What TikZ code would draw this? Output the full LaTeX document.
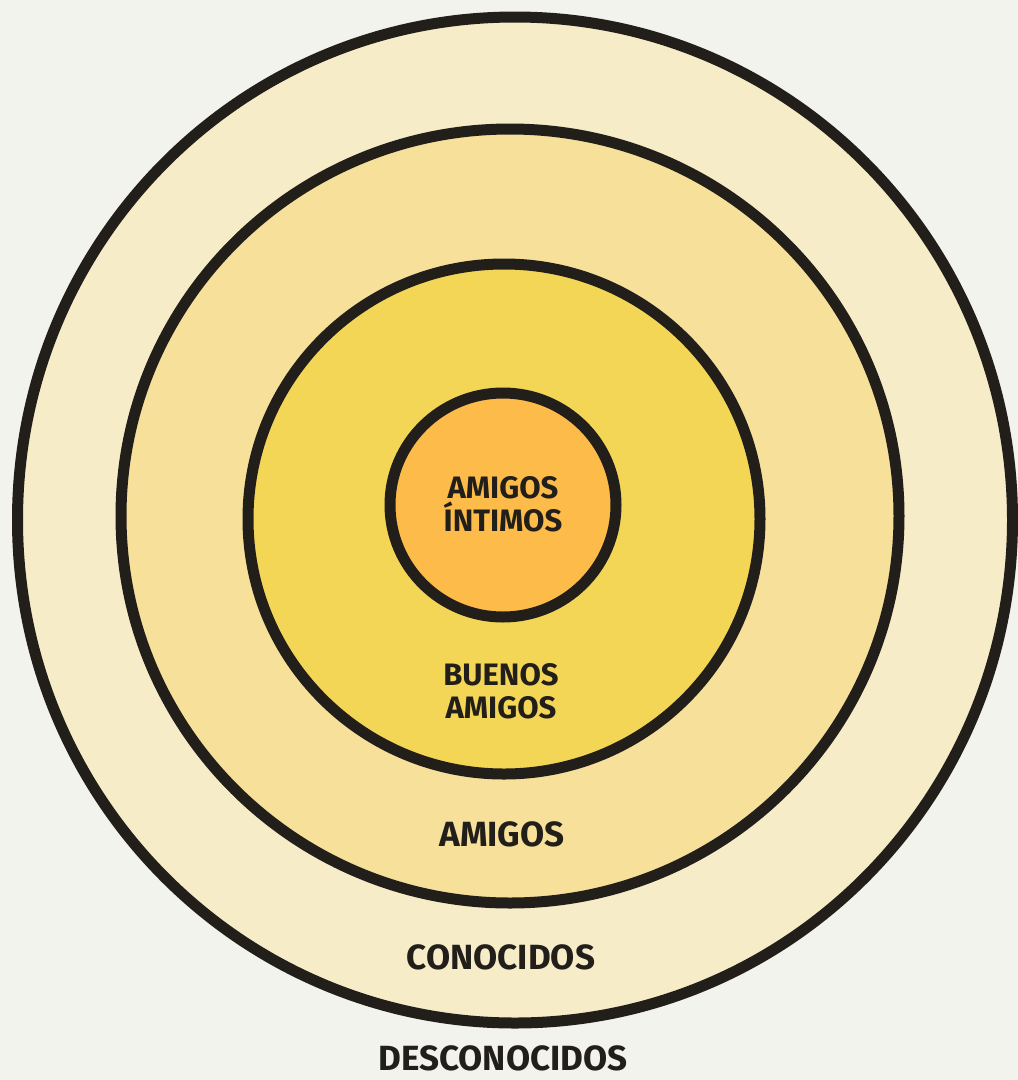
\documentclass[tikz,border=0pt]{standalone}
\usepackage{fontspec}
\setmainfont{Fira Sans}
\usetikzlibrary{shapes.geometric}
\definecolor{bgc}{HTML}{F3F3EE}
\definecolor{ringA}{HTML}{F6ECC8}
\definecolor{ringB}{HTML}{F6E09A}
\definecolor{ringC}{HTML}{F4D656}
\definecolor{ringD}{HTML}{FDBB4A}
\definecolor{inkc}{HTML}{221F1B}
\tikzset{
  ring/.style={ellipse, draw=inkc, line width=11pt, inner sep=0pt},
  lbl/.style={text=inkc, font=\fontsize{31}{37}\selectfont\bfseries, align=center, inner sep=0pt},
  biglbl/.style={lbl, font=\fontsize{35}{40}\selectfont\bfseries}
}
\begin{document}
\begin{tikzpicture}[x=1pt,y=-1pt]
\fill[bgc] (0,0) rectangle (1018,1080);
\useasboundingbox (0,0) rectangle (1018,1080);
\node[ring, fill=ringA, minimum width=995pt, minimum height=1006pt] (c1) at (515,520) {};
\node[ring, fill=ringB, minimum width=778pt, minimum height=774pt] (c2) at (510,516) {};
\node[ring, fill=ringC, minimum width=512pt, minimum height=510pt] (c3) at (504,519) {};
\node[ring, fill=ringD, minimum width=226pt, minimum height=224pt] (c4) at (503,505) {};
\node[lbl] (t4) at (503,504) {AMIGOS\\[-4pt]ÍNTIMOS};
\node[lbl] (t3) at (501,691) {BUENOS\\[-4pt]AMIGOS};
\node[biglbl] (t2) at (502,834) {AMIGOS};
\node[biglbl] (t1) at (501,957) {CONOCIDOS};
\node[biglbl] (t0) at (503,1058) {DESCONOCIDOS};
\end{tikzpicture}
\end{document}
